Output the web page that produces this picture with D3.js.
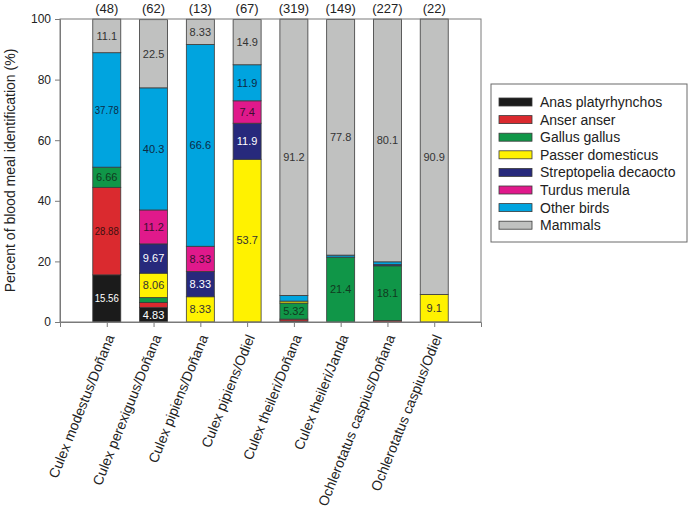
<!DOCTYPE html>
<html><head><meta charset="utf-8">
<script src="https://cdn.jsdelivr.net/npm/d3@7"></script>
<style>body{margin:0;background:#fff;} svg{display:block;font-family:Arial,"Liberation Sans",sans-serif;}</style>
</head><body>
<svg id="c" width="690" height="514"></svg>
<script>
const categories = ["Culex modestus/Doñana","Culex perexiguus/Doñana","Culex pipiens/Doñana","Culex pipiens/Odiel","Culex theileri/Doñana","Culex theileri/Janda","Ochlerotatus caspius/Doñana","Ochlerotatus caspius/Odiel"];
const counts = [48, 62, 13, 67, 319, 149, 227, 22];
const seriesNames = ["Anas platyrhynchos","Anser anser","Gallus gallus","Passer domesticus","Streptopelia decaocto","Turdus merula","Other birds","Mammals"];
const anas    = [15.56, 4.83, 0,    0,    0.31, 0,    0,    0];
const anser   = [28.88, 1.61, 0,    0,    0.63, 0,    0.44, 0];
const gallus  = [6.66,  1.61, 0,    0,    5.32, 21.4, 18.1, 0];
const passer  = [0,     8.06, 8.33, 53.7, 0.63, 0,    0,    9.1];
const strepto = [0,     9.67, 8.33, 11.9, 0,    0,    0.44, 0];
const turdus  = [0,     11.2, 8.33, 7.4,  0,    0,    0,    0];
const other   = [37.78, 40.3, 66.6, 11.9, 1.88, 0.67, 0.88, 0];
const mammals = [11.1,  22.5, 8.33, 14.9, 91.2, 77.8, 80.1, 90.9];
const yTicks = [0, 20, 40, 60, 80, 100];

const seriesValues = [anas, anser, gallus, passer, strepto, turdus, other, mammals];
const colors = ["#1b1b1b","#da2a2f","#109648","#fff200","#27297c","#e0198b","#00a4df","#c0c1c0"];
const labelColors = ["#fff","#3a1010","#103a20","#333","#fff","#3a1030","#0d2a45","#333"];

const rows = categories.map((c, i) => {
  const r = {cat: c};
  seriesNames.forEach((s, j) => r[s] = seriesValues[j][i]);
  return r;
});

const svg = d3.select("#c");
const L = 60, R = 481, T = 19, B = 322;
const x = d3.scalePoint().domain(categories).range([L, R]).padding(1);
const y = d3.scaleLinear().domain([0, 100]).range([B, T]);
const bw = 28;

const stack = d3.stack().keys(seriesNames)(rows);

// bars
const g = svg.append("g");
stack.forEach((layer, j) => {
  layer.forEach((d, i) => {
    const v = d[1] - d[0];
    if (v <= 0) return;
    g.append("rect")
      .attr("x", x(categories[i]) - bw / 2)
      .attr("y", y(d[1]))
      .attr("width", bw)
      .attr("height", y(d[0]) - y(d[1]))
      .attr("fill", colors[j])
      .attr("stroke", "#3a3a3a")
      .attr("stroke-width", 0.8);
  });
});
// labels
stack.forEach((layer, j) => {
  layer.forEach((d, i) => {
    const v = seriesValues[j][i];
    if (v < 4) return;
    const t = g.append("text")
      .attr("x", x(categories[i]))
      .attr("y", (y(d[0]) + y(d[1])) / 2)
      .attr("dy", "0.35em")
      .attr("text-anchor", "middle")
      .attr("font-size", 11)
      .attr("fill", labelColors[j])
      .text(String(v));
    const w = t.node().getComputedTextLength();
    if (w > 24) t.attr("textLength", 24).attr("lengthAdjust", "spacingAndGlyphs");
  });
});

// frame
svg.append("rect").attr("x", L).attr("y", T).attr("width", R - L).attr("height", B - T)
  .attr("fill", "none").attr("stroke", "#7a7a7a").attr("stroke-width", 1);

// y axis
const ya = svg.append("g").attr("transform", `translate(${L},0)`)
  .call(d3.axisLeft(y).tickValues(yTicks).tickSize(5).tickPadding(4).tickFormat(d3.format("d")));
ya.select(".domain").attr("stroke", "#7a7a7a");
ya.selectAll(".tick line").attr("stroke", "#7a7a7a");
ya.selectAll("text").attr("font-size", 12).attr("fill", "#222").attr("font-family", "Arial, 'Liberation Sans', sans-serif");

// x axis
const xa = svg.append("g").attr("transform", `translate(0,${B})`)
  .call(d3.axisBottom(x).tickSize(5).tickFormat(""));
xa.select(".domain").attr("stroke", "#7a7a7a");
xa.selectAll(".tick line").attr("stroke", "#7a7a7a");

svg.append("g").selectAll("text").data(categories).join("text")
  .attr("transform", d => `translate(${x(d) + 8},${337}) rotate(-68)`)
  .attr("text-anchor", "end")
  .attr("font-size", 14)
  .attr("fill", "#222")
  .text(d => d);

// counts
svg.append("g").selectAll("text").data(categories).join("text")
  .attr("x", d => x(d)).attr("y", 13)
  .attr("text-anchor", "middle")
  .attr("font-size", 13)
  .attr("fill", "#222")
  .text((d, i) => `(${counts[i]})`);

// y title
svg.append("text")
  .attr("transform", `translate(15,${(T + B) / 2}) rotate(-90)`)
  .attr("text-anchor", "middle")
  .attr("font-size", 14)
  .attr("fill", "#222")
  .text("Percent of blood meal identification (%)");

// legend
const lg = svg.append("g");
lg.append("rect").attr("x", 491).attr("y", 84).attr("width", 196).attr("height", 158)
  .attr("fill", "#fff").attr("stroke", "#6a6a6a").attr("stroke-width", 1);
seriesNames.forEach((s, j) => {
  const cy = 102 + j * 17.6;
  lg.append("rect").attr("x", 499).attr("y", cy - 4).attr("width", 33).attr("height", 8)
    .attr("fill", colors[j]).attr("stroke", "#3a3a3a").attr("stroke-width", 0.8);
  lg.append("text").attr("x", 540).attr("y", cy).attr("dy", "0.35em")
    .attr("font-size", 14).attr("fill", "#222").text(s);
});
</script>
</body></html>
